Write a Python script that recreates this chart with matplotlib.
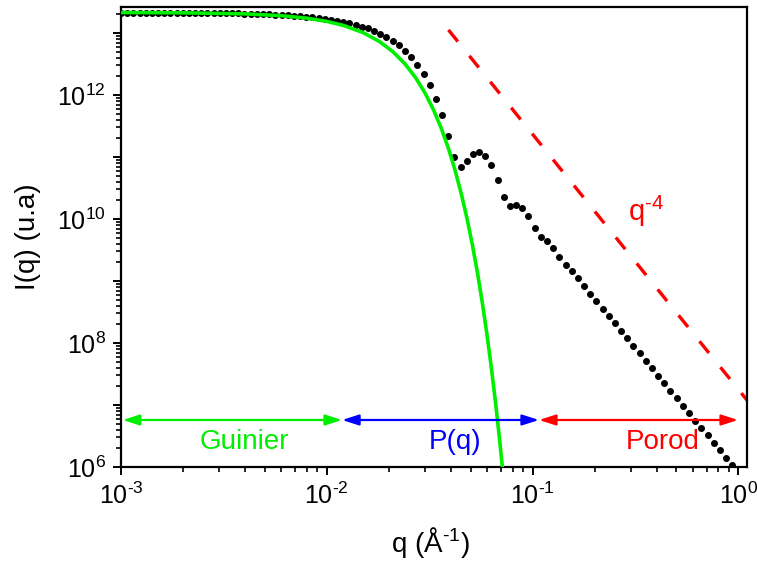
import numpy as np
import matplotlib
matplotlib.use('Agg')
import matplotlib.pyplot as plt
from matplotlib.patches import FancyArrowPatch
from matplotlib.ticker import FixedLocator, FuncFormatter, NullFormatter

plt.rcParams['font.family'] = ['Liberation Sans', 'DejaVu Sans']
plt.rcParams['mathtext.fontset'] = 'custom'
plt.rcParams['mathtext.rm'] = 'Liberation Sans'
plt.rcParams['mathtext.it'] = 'Liberation Sans:italic'

HY = '\u2010'  # short hyphen used for the negative exponents

# measured SAXS curve (q in 1/A, intensity in a.u.)
q_data = [0.001000, 0.001072, 0.001148, 0.001230, 0.001318, 0.001413, 0.001514, 0.001622,
          0.001738, 0.001862, 0.001995, 0.002138, 0.002291, 0.002455, 0.002630, 0.002818,
          0.003020, 0.003236, 0.003467, 0.003715, 0.003981, 0.004266, 0.004571, 0.004898,
          0.005248, 0.005623, 0.006026, 0.006457, 0.006918, 0.007413, 0.007943, 0.008511,
          0.009120, 0.009772, 0.01047, 0.01122, 0.01202, 0.01288, 0.01380, 0.01479,
          0.01585, 0.01698, 0.01820, 0.01950, 0.02089, 0.02239, 0.02399, 0.02570,
          0.02754, 0.02951, 0.03162, 0.03388, 0.03631, 0.03890, 0.04169, 0.04467,
          0.04786, 0.05129, 0.05495, 0.05888, 0.06310, 0.06761, 0.07244, 0.07762,
          0.08318, 0.08913, 0.09550, 0.1023, 0.1096, 0.1175, 0.1259, 0.1349,
          0.1445, 0.1549, 0.1660, 0.1778, 0.1905, 0.2042, 0.2188, 0.2344,
          0.2512, 0.2692, 0.2884, 0.3090, 0.3311, 0.3548, 0.3802, 0.4074,
          0.4365, 0.4677, 0.5012, 0.5370, 0.5754, 0.6166, 0.6607, 0.7079,
          0.7586, 0.8128, 0.8710, 0.9333]
I_data = [2.133e13, 2.132e13, 2.131e13, 2.130e13, 2.129e13, 2.128e13, 2.126e13, 2.124e13,
          2.122e13, 2.120e13, 2.118e13, 2.115e13, 2.111e13, 2.107e13, 2.103e13, 2.097e13,
          2.091e13, 2.084e13, 2.076e13, 2.067e13, 2.058e13, 2.046e13, 2.033e13, 2.018e13,
          2.001e13, 1.981e13, 1.959e13, 1.933e13, 1.905e13, 1.872e13, 1.836e13, 1.796e13,
          1.750e13, 1.698e13, 1.642e13, 1.579e13, 1.509e13, 1.432e13, 1.351e13, 1.264e13,
          1.191e13, 1.089e13, 9.64e12, 8.71e12, 7.51e12, 6.34e12, 5.13e12, 4.06e12,
          3.05e12, 2.18e12, 1.45e12, 8.61e11, 4.76e11, 2.21e11, 1.01e11, 6.98e10,
          8.53e10, 1.117e11, 1.217e11, 1.05e11, 7.35e10, 4.21e10, 2.24e10, 1.62e10,
          1.66e10, 1.52e10, 1.117e10, 7.16e9, 5.19e9, 4.42e9, 3.41e9, 2.47e9,
          1.83e9, 1.45e9, 1.106e9, 8.22e8, 6.17e8, 4.76e8, 3.53e8, 2.72e8,
          2.08e8, 1.563e8, 1.191e8, 8.95e7, 6.82e7, 5.13e7, 3.91e7, 2.94e7,
          2.24e7, 1.702e7, 1.282e7, 9.64e6, 7.35e6, 5.58e6, 4.26e6, 3.24e6,
          2.44e6, 1.86e6, 1.40e6, 1.06e6]

# Guinier fit curve
q_guinier = [0.001, 0.002, 0.004, 0.006, 0.008, 0.010, 0.012, 0.015, 0.018, 0.021,
             0.024, 0.027, 0.030, 0.033, 0.036, 0.039, 0.042, 0.045, 0.048, 0.051,
             0.054, 0.057, 0.060, 0.063, 0.066, 0.069, 0.072]
I_guinier = [2.133e13, 2.112e13, 2.029e13, 1.899e13, 1.730e13, 1.536e13, 1.327e13, 1.014e13,
             7.30e12, 4.95e12, 3.16e12, 1.904e12, 1.079e12, 5.76e11, 2.90e11, 1.372e11,
             6.13e10, 2.57e10, 1.02e10, 3.80e9, 1.34e9, 4.42e8, 1.38e8, 4.05e7,
             1.12e7, 2.93e6, 7.2e5]

# q^-4 guide line
q_porod = [0.039, 1.15]
I_porod = [1.12e13, 1.0e7]

# regions
region_names = ['Guinier', 'P(q)', 'Porod']
region_colors = ['#00ee00', '#0000ff', '#ff0000']
region_bounds = [(0.00102, 0.01186), (0.01186, 0.1074), (0.1074, 0.996)]
region_label_q = [0.00396, 0.042, 0.43]
arrow_I = 5.73e6
label_I = 1.95e6

# axis ticks
x_major = [1e-3, 1e-2, 1e-1, 1e0]
y_major = [1e6, 1e7, 1e8, 1e9, 1e10, 1e11, 1e12, 1e13]

fig = plt.figure(figsize=(7.57, 5.61), dpi=100)
ax = fig.add_axes([121 / 757, 1 - 467 / 561, 626 / 757, 460 / 561])

ax.plot(q_guinier, I_guinier, color='#00ee00', lw=2.6, zorder=3)
ax.plot(q_data, I_data, 'o', color='black', ms=4.0, zorder=2)
ax.plot(q_porod, I_porod, color='#ff0000', lw=2.4, ls=(0, (4.5, 5.5)), zorder=2)

for name, col, (q1, q2), ql in zip(region_names, region_colors, region_bounds, region_label_q):
    arr = FancyArrowPatch((q1, arrow_I), (q2, arrow_I),
                          arrowstyle='<|-|>,head_length=0.5,head_width=0.16',
                          color=col, lw=1.6, mutation_scale=20,
                          shrinkA=0, shrinkB=0, zorder=4)
    ax.add_patch(arr)
    ax.text(ql, label_I, name, color=col, fontsize=20, ha='center', va='baseline')

ax.text(0.2908, 9.3e9, r'q$^{\mathregular{%s4}}$' % HY, color='#ff0000', fontsize=21,
        ha='left', va='baseline')

ax.set_xscale('log')
ax.set_yscale('log')
ax.set_xlim(1e-3, 1.101)
ax.set_ylim(1e6, 2.62e13)

x_minor = [m * d for d in [1e-3, 1e-2, 1e-1, 1e0] for m in range(2, 10) if m * d < 1.1]
y_minor = [m * d for d in y_major for m in range(2, 10) if m * d < 2.6e13]
ax.xaxis.set_major_locator(FixedLocator(x_major))
ax.xaxis.set_minor_locator(FixedLocator(x_minor))
ax.yaxis.set_major_locator(FixedLocator(y_major))
ax.yaxis.set_minor_locator(FixedLocator(y_minor))
ax.xaxis.set_minor_formatter(NullFormatter())
ax.yaxis.set_minor_formatter(NullFormatter())


def fmt_exp(e):
    s = str(abs(e))
    if e < 0:
        s = HY + s
    return r'$\mathregular{10^{%s}}$' % s


def fmt_x(v, pos):
    return fmt_exp(round(np.log10(v)))


def fmt_y(v, pos):
    e = round(np.log10(v))
    if e % 2:
        return ''
    return fmt_exp(e)


ax.xaxis.set_major_formatter(FuncFormatter(fmt_x))
ax.yaxis.set_major_formatter(FuncFormatter(fmt_y))

for s in ax.spines.values():
    s.set_linewidth(1.6)
ax.tick_params(which='major', direction='out', length=6, width=1.4, labelsize=18, pad=5)
ax.tick_params(which='minor', direction='out', length=3.5, width=1.2)
ax.tick_params(top=False, right=False)

ax.set_xlabel(r'q (Å$^{\mathregular{%s1}}$)' % HY, fontsize=20)
ax.set_ylabel('I(q) (u.a)', fontsize=20)
ax.xaxis.set_label_coords(0.494, -0.125)
ax.yaxis.set_label_coords(-0.128, 0.5)

fig.savefig('out.png', dpi=100)
